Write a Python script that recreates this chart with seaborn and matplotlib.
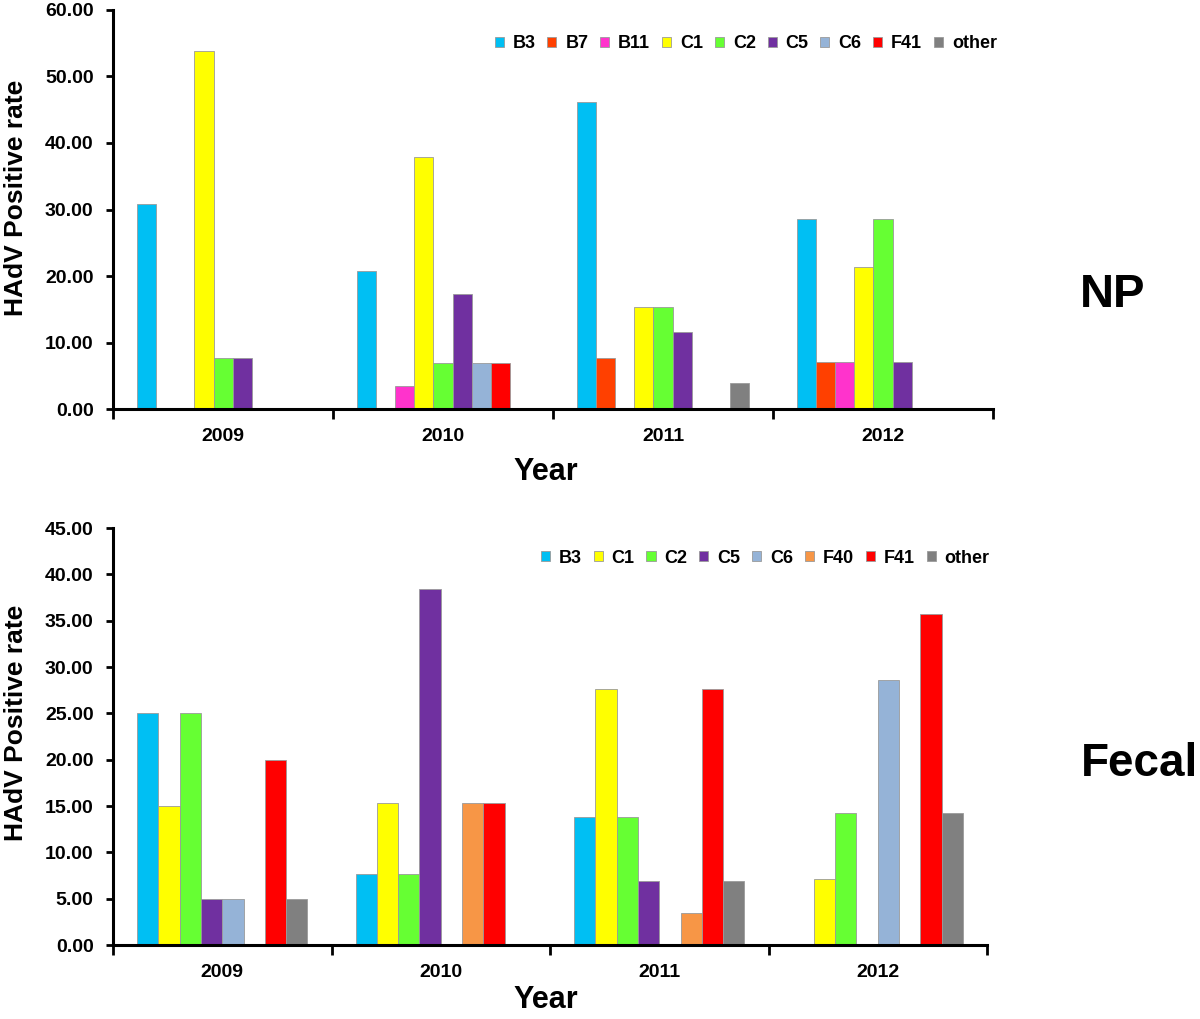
import pandas as pd
import matplotlib
matplotlib.use('Agg')
import matplotlib.pyplot as plt
import seaborn as sns

# 연도 / 유형
years = ['2009', '2010', '2011', '2012']

# NP (nasopharyngeal) 유형별 양성률
np_types = ['B3', 'B7', 'B11', 'C1', 'C2', 'C5', 'C6', 'F41', 'other']
np_B3 = [30.77, 20.69, 46.15, 28.57]
np_B7 = [0, 0, 7.69, 7.14]
np_B11 = [0, 3.45, 0, 7.14]
np_C1 = [53.85, 37.93, 15.38, 21.43]
np_C2 = [7.69, 6.90, 15.38, 28.57]
np_C5 = [7.69, 17.24, 11.54, 7.14]
np_C6 = [0, 6.90, 0, 0]
np_F41 = [0, 6.90, 0, 0]
np_other = [0, 0, 3.85, 0]

# Fecal 유형별 양성률
fecal_types = ['B3', 'C1', 'C2', 'C5', 'C6', 'F40', 'F41', 'other']
fecal_B3 = [25.00, 7.69, 13.79, 0]
fecal_C1 = [15.00, 15.38, 27.59, 7.14]
fecal_C2 = [25.00, 7.69, 13.79, 14.29]
fecal_C5 = [5.00, 38.46, 6.90, 0]
fecal_C6 = [5.00, 0, 0, 28.57]
fecal_F40 = [0, 15.38, 3.45, 0]
fecal_F41 = [20.00, 15.38, 27.59, 35.71]
fecal_other = [5.00, 0, 6.90, 14.29]

colors = {
    'B3': '#00BFF3', 'B7': '#FF4000', 'B11': '#FF33CC', 'C1': '#FFFF00',
    'C2': '#66FF33', 'C5': '#7030A0', 'C6': '#95B3D7', 'F40': '#F79646',
    'F41': '#FF0000', 'other': '#808080',
}


def to_long(types, series):
    rows = []
    for t, vals in zip(types, series):
        for y, v in zip(years, vals):
            rows.append({'Year': y, 'type': t, 'rate': v})
    return pd.DataFrame(rows)


np_df = to_long(np_types, [np_B3, np_B7, np_B11, np_C1, np_C2, np_C5, np_C6, np_F41, np_other])
fecal_df = to_long(fecal_types, [fecal_B3, fecal_C1, fecal_C2, fecal_C5, fecal_C6,
                                 fecal_F40, fecal_F41, fecal_other])

sns.set_style('white')
plt.rcParams['font.family'] = ['Liberation Sans', 'DejaVu Sans']
plt.rcParams['font.weight'] = 'bold'
# 글자/눈금은 순수 검정
for key in ['text.color', 'axes.labelcolor', 'xtick.color', 'ytick.color']:
    plt.rcParams[key] = 'black'

fig = plt.figure(figsize=(12, 10.19), dpi=100)
ax1 = fig.add_axes([0.0942, 0.5986, 0.7333, 0.3916])
ax2 = fig.add_axes([0.0942, 0.0726, 0.7283, 0.4092])


def draw_panel(ax, df, types, ymax, step, leg_anchor, label_y):
    sns.barplot(data=df, x='Year', y='rate', hue='type', hue_order=types,
                order=years, palette=colors, width=0.78, ax=ax,
                edgecolor='#9a9a9a', linewidth=0.6, errorbar=None, saturation=1)
    ax.set_xlim(-0.5, 3.5)
    ax.set_ylim(0, ymax)
    ticks = [i * step for i in range(int(round(ymax / step)) + 1)]
    ax.set_yticks(ticks)
    ax.set_yticklabels([f'{t:.2f}' for t in ticks], fontsize=14, fontweight='bold')
    # 그룹 경계에 눈금, 연도 라벨은 가운데
    ax.set_xticks([-0.5, 0.5, 1.5, 2.5, 3.5])
    ax.set_xticklabels([])
    ax.set_xticks([0, 1, 2, 3], minor=True)
    ax.set_xticklabels(years, minor=True, fontsize=14, fontweight='bold')
    ax.tick_params(axis='x', which='major', direction='out', length=7, width=2, bottom=True)
    ax.tick_params(axis='x', which='minor', length=0, pad=14)
    ax.tick_params(axis='y', direction='out', length=5, width=2, left=True, pad=9)
    for s in ['top', 'right']:
        ax.spines[s].set_visible(False)
    for s in ['left', 'bottom']:
        ax.spines[s].set_linewidth(2.2)
        ax.spines[s].set_color('black')
    ax.set_xlabel('')
    ax.set_ylabel('HAdV Positive rate', fontsize=19, fontweight='bold')
    ax.yaxis.set_label_coords(-0.097, label_y)
    ax.legend(loc='center right', bbox_to_anchor=leg_anchor, ncol=len(types),
              frameon=False, fontsize=13, handlelength=0.5, handleheight=0.5,
              handletextpad=0.5, columnspacing=0.65, borderaxespad=0,
              borderpad=0, labelcolor='black')


draw_panel(ax1, np_df, np_types, 60, 10, (1.0045, 0.915), 0.529)
draw_panel(ax2, fecal_df, fecal_types, 45, 5, (1.003, 0.928), 0.532)

fig.text(546 / 1200, 1 - 472 / 1019, 'Year', fontsize=22, fontweight='bold', ha='center', va='center')
fig.text(546 / 1200, 1 - 1000 / 1019, 'Year', fontsize=22, fontweight='bold', ha='center', va='center')
fig.text(1113 / 1200, 1 - 295 / 1019, 'NP', fontsize=34, fontweight='bold', ha='center', va='center')
fig.text(1140 / 1200, 1 - 764 / 1019, 'Fecal', fontsize=33, fontweight='bold', ha='center', va='center')

fig.savefig('out.png', dpi=100)
plt.close(fig)
